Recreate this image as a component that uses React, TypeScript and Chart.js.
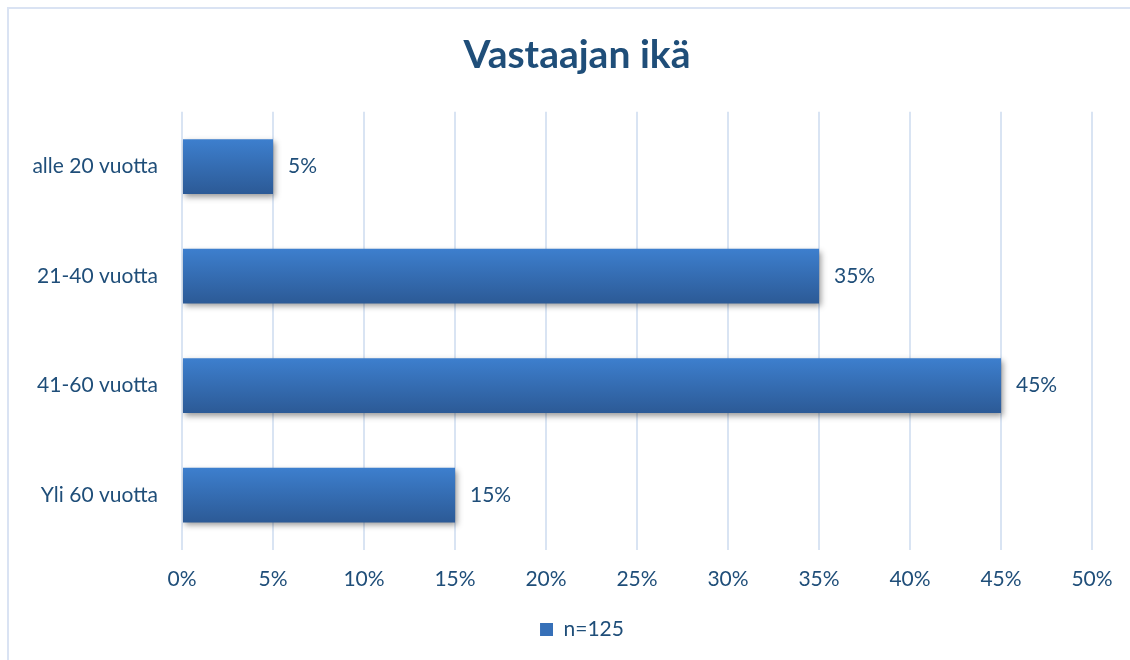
import React, { useEffect, useRef } from "react";
import { Chart, registerables } from "chart.js";

Chart.register(...registerables);

const title = "Vastaajan ikä";
const categories = ["alle 20 vuotta", "21-40 vuotta", "41-60 vuotta", "Yli 60 vuotta"];
const seriesLabel = "n=125";
const values = [5, 35, 45, 15];
const xTicksMax = 50;
const xTickStep = 5;

const FONT = "Lato, 'Open Sans', sans-serif";
const TEXT = "#1F4E79";
const GRID = "#D9E4F3";

const borderPlugin = {
  id: "outerBorder",
  afterLayout(chart: any) {
    // centre title and legend like the original (offset from the value-axis area)
    if (chart.titleBlock) chart.titleBlock.left = 62;
    if (chart.legend) chart.legend.left = 72;
  },
  beforeDraw(chart: any) {
    const ctx = chart.ctx;
    ctx.save();
    ctx.strokeStyle = "#DAE3F3";
    ctx.lineWidth = 2;
    ctx.beginPath();
    ctx.moveTo(8, chart.height);
    ctx.lineTo(8, 8);
    ctx.lineTo(chart.width, 8);
    ctx.stroke();
    ctx.restore();
  },
};

const barStylePlugin = {
  id: "barStyle",
  beforeDatasetDraw(chart: any, args: any) {
    const ctx = chart.ctx;
    const meta = args.meta;
    meta.data.forEach((el: any) => {
      const h = el.height;
      const g = ctx.createLinearGradient(0, el.y - h / 2, 0, el.y + h / 2);
      g.addColorStop(0, "#3D7FCE");
      g.addColorStop(1, "#2C5A96");
      el.options = { ...el.options, backgroundColor: g };
    });
    ctx.save();
    ctx.shadowColor = "rgba(0,0,0,0.4)";
    ctx.shadowBlur = 6;
    ctx.shadowOffsetX = 2;
    ctx.shadowOffsetY = 3;
  },
  afterDatasetDraw(chart: any) {
    chart.ctx.restore();
  },
  afterDatasetsDraw(chart: any) {
    const ctx = chart.ctx;
    const meta = chart.getDatasetMeta(0);
    const data = chart.data.datasets[0].data as number[];
    ctx.save();
    ctx.font = `21px ${FONT}`;
    ctx.fillStyle = TEXT;
    ctx.textAlign = "left";
    ctx.textBaseline = "middle";
    meta.data.forEach((el: any, i: number) => {
      ctx.fillText(`${data[i]}%`, el.x + 15, el.y);
    });
    ctx.restore();
  },
};

export default function App() {
  const ref = useRef<HTMLCanvasElement | null>(null);
  useEffect(() => {
    document.body.style.margin = "0";
    const chart = new Chart(ref.current!, {
      type: "bar",
      data: {
        labels: categories,
        datasets: [
          {
            label: seriesLabel,
            data: values,
            backgroundColor: "#3670B8",
            barPercentage: 0.5,
            categoryPercentage: 1.0,
          },
        ],
      },
      options: {
        indexAxis: "y",
        responsive: false,
        animation: false,
        layout: { padding: { left: 14, right: 38, top: 30, bottom: 10 } },
        scales: {
          x: {
            min: 0,
            max: xTicksMax,
            ticks: {
              stepSize: xTickStep,
              callback: (v: any) => `${v}%`,
              color: TEXT,
              font: { family: FONT, size: 21 },
              padding: 17,
            },
            grid: { color: GRID, lineWidth: 2, drawTicks: false },
            border: { display: false },
          },
          y: {
            ticks: {
              color: TEXT,
              font: { family: FONT, size: 21 },
              padding: 24,
            },
            grid: { display: false, drawTicks: false },
            border: { display: false },
            afterFit: (scale: any) => {
              scale.width = 168;
            },
          },
        },
        plugins: {
          title: {
            display: true,
            text: title,
            color: TEXT,
            font: { family: FONT, size: 39, weight: "bold" },
            padding: { top: 2, bottom: 33 },
          },
          legend: {
            position: "bottom",
            labels: {
              color: TEXT,
              font: { family: FONT, size: 21 },
              boxWidth: 13,
              boxHeight: 13,
              padding: 10,
            },
          },
          tooltip: { enabled: false },
        },
      },
      plugins: [borderPlugin, barStylePlugin],
    });
    return () => chart.destroy();
  }, []);
  return <canvas ref={ref} width={1130} height={660} style={{ display: "block" }} />;
}
